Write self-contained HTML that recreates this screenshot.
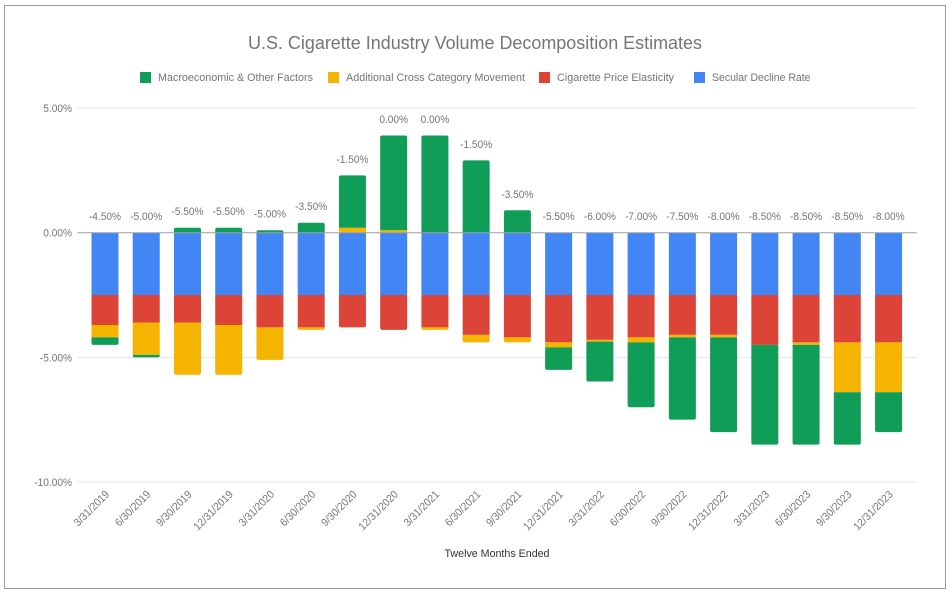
<!DOCTYPE html>
<html lang="en">
<head>
<meta charset="utf-8">
<title>U.S. Cigarette Industry Volume Decomposition Estimates</title>
<style>
html,body{margin:0;padding:0;background:#fff;width:951px;height:595px;overflow:hidden}
svg{display:block;filter:blur(0.35px)}
text{font-family:"Liberation Sans",sans-serif}
</style>
</head>
<body>
<svg id="chart" xmlns="http://www.w3.org/2000/svg" width="951" height="595" viewBox="0 0 951 595">
  <rect x="4.5" y="5.5" width="941" height="583" fill="#fff" stroke="#9a9a9a" stroke-width="1"/>
  <text x="475" y="49" text-anchor="middle" font-size="18" fill="#757575" textLength="454" lengthAdjust="spacingAndGlyphs">U.S. Cigarette Industry Volume Decomposition Estimates</text>
  <g font-size="11" fill="#757575">
    <g>
      <rect x="140" y="72" width="11" height="11" fill="#0f9d58"/>
      <text x="158" y="81" textLength="155" lengthAdjust="spacingAndGlyphs">Macroeconomic &amp; Other Factors</text>
    </g>
    <g>
      <rect x="328" y="72" width="11" height="11" fill="#f4b400"/>
      <text x="346" y="81" textLength="179" lengthAdjust="spacingAndGlyphs">Additional Cross Category Movement</text>
    </g>
    <g>
      <rect x="539" y="72" width="11" height="11" fill="#db4437"/>
      <text x="557" y="81" textLength="117" lengthAdjust="spacingAndGlyphs">Cigarette Price Elasticity</text>
    </g>
    <g>
      <rect x="694" y="72" width="11" height="11" fill="#4285f4"/>
      <text x="712" y="81" textLength="98.5" lengthAdjust="spacingAndGlyphs">Secular Decline Rate</text>
    </g>
  </g>
  <g id="grid"></g>
  <g id="bars"></g>
  <line id="zero" stroke="#9e9e9e" stroke-width="1"/>
  <g id="yticks" font-size="11" fill="#757575" text-anchor="end"></g>
  <g id="xticks" font-size="11" fill="#757575" text-anchor="end"></g>
  <g id="totals" font-size="11" fill="#757575" text-anchor="middle"></g>
  <text x="497" y="557" text-anchor="middle" font-size="11" fill="#333" textLength="105" lengthAdjust="spacingAndGlyphs">Twelve Months Ended</text>
</svg>
<script>
const categories = ["3/31/2019","6/30/2019","9/30/2019","12/31/2019","3/31/2020","6/30/2020","9/30/2020","12/31/2020","3/31/2021","6/30/2021","9/30/2021","12/31/2021","3/31/2022","6/30/2022","9/30/2022","12/31/2022","3/31/2023","6/30/2023","9/30/2023","12/31/2023"];
const secularDecline = [-2.5,-2.5,-2.5,-2.5,-2.5,-2.5,-2.5,-2.5,-2.5,-2.5,-2.5,-2.5,-2.5,-2.5,-2.5,-2.5,-2.5,-2.5,-2.5,-2.5];
const priceElasticity = [-1.2,-1.1,-1.1,-1.2,-1.3,-1.3,-1.3,-1.4,-1.3,-1.6,-1.7,-1.9,-1.8,-1.7,-1.6,-1.6,-2.0,-1.9,-1.9,-1.9];
const crossCategory = [-0.5,-1.3,-2.1,-2.0,-1.3,-0.1,0.2,0.1,-0.1,-0.3,-0.2,-0.2,-0.07,-0.2,-0.1,-0.1,0,-0.1,-2.0,-2.0];
const macroOther = [-0.3,-0.1,0.2,0.2,0.1,0.4,2.1,3.8,3.9,2.9,0.9,-0.9,-1.6,-2.6,-3.3,-3.8,-4.0,-4.0,-2.1,-1.6];
const totalLabels = ["-4.50%","-5.00%","-5.50%","-5.50%","-5.00%","-3.50%","-1.50%","0.00%","0.00%","-1.50%","-3.50%","-5.50%","-6.00%","-7.00%","-7.50%","-8.00%","-8.50%","-8.50%","-8.50%","-8.00%"];
const yTickValues = [5,0,-5,-10];
const yTickLabels = ["5.00%","0.00%","-5.00%","-10.00%"];

const SVGNS = "http://www.w3.org/2000/svg";
const plotLeft = 77.3, plotRight = 916.7, zeroY = 232.7, pxPerUnit = 24.93;
const firstCenter = 105, bandStep = 41.24, barWidth = 27, cornerRadius = 2;
const labelCondense = 0.92;
function yScale(v){ return zeroY - v * pxPerUnit; }
function xScale(i){ return firstCenter + i * bandStep; }
function make(tag, parent, attrs){
  const el = document.createElementNS(SVGNS, tag);
  for (const k in attrs) el.setAttribute(k, attrs[k]);
  parent.appendChild(el);
  return el;
}
function condense(t){
  t.setAttribute("textLength", (t.getComputedTextLength() * labelCondense).toFixed(1));
  t.setAttribute("lengthAdjust", "spacingAndGlyphs");
}
function segPath(x, y0, y1, roundOuter){
  // y0 is the edge nearest the axis, y1 is the outer edge
  const l = x - barWidth / 2, r = x + barWidth / 2;
  if (!roundOuter) return `M${l} ${y0}H${r}V${y1}H${l}Z`;
  const dir = y1 > y0 ? 1 : -1;
  const c = Math.min(cornerRadius, Math.abs(y1 - y0));
  return `M${l} ${y0}H${r}V${y1 - dir * c}Q${r} ${y1} ${r - c} ${y1}H${l + c}Q${l} ${y1} ${l} ${y1 - dir * c}Z`;
}

const gridG = document.getElementById("grid");
const yG = document.getElementById("yticks");
yTickValues.forEach((v, i) => {
  if (v !== 0) {
    const ln = make("line", gridG, {x1: plotLeft, x2: plotRight, y1: yScale(v), y2: yScale(v), stroke: "#e4e4e4", "stroke-width": 1});
    
    
  }
  const t = make("text", yG, {x: 72, y: yScale(v) + 4});
  t.textContent = yTickLabels[i];
  
  
  condense(t);
});

const zero = document.getElementById("zero");
zero.setAttribute("x1", plotLeft);
zero.setAttribute("x2", plotRight);
zero.setAttribute("y1", yScale(0));
zero.setAttribute("y2", yScale(0));

const seriesList = [
  {key: "secular-decline", values: secularDecline, color: "#4285f4"},
  {key: "price-elasticity", values: priceElasticity, color: "#db4437"},
  {key: "cross-category", values: crossCategory, color: "#f4b400"},
  {key: "macroeconomic", values: macroOther, color: "#0f9d58"}
];
const barsG = document.getElementById("bars");
const xG = document.getElementById("xticks");
const totalsG = document.getElementById("totals");
categories.forEach((cat, i) => {
  const cx = xScale(i);
  const negSeries = seriesList.filter(s => s.values[i] < 0);
  const posSeries = seriesList.filter(s => s.values[i] > 0);
  let neg = 0, pos = 0;
  negSeries.forEach((s, j) => {
    const start = neg;
    neg += s.values[i];
    const p = make("path", barsG, {d: segPath(cx, yScale(start), yScale(neg), j === negSeries.length - 1), fill: s.color});
    
    
  });
  posSeries.forEach((s, j) => {
    const start = pos;
    pos += s.values[i];
    const p = make("path", barsG, {d: segPath(cx, yScale(start), yScale(pos), j === posSeries.length - 1), fill: s.color});
    
    
  });
  const total = make("text", totalsG, {x: cx, y: yScale(pos) - 12.5});
  total.textContent = totalLabels[i];
  
  
  condense(total);
  const tick = make("text", xG, {transform: `translate(${cx + 5},${yScale(-10) + 13}) rotate(-45)`});
  tick.textContent = cat;
  
  
  condense(tick);
});
</script>
</body>
</html>
